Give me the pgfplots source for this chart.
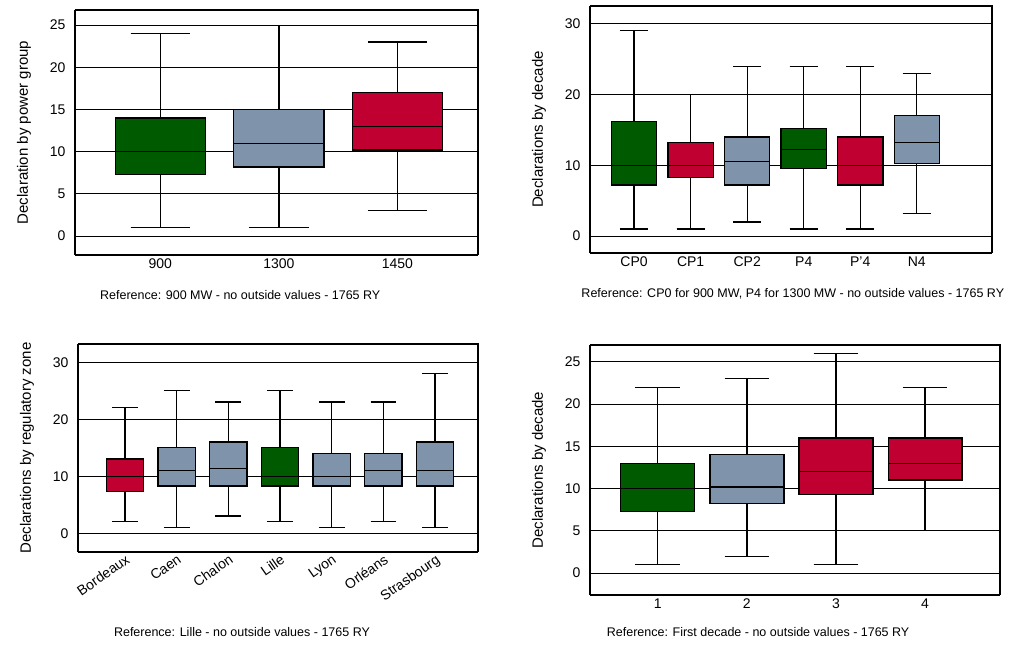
\documentclass[border=0pt]{standalone}
\usepackage{pgfplots}
\pgfplotsset{compat=1.18}
\usepgfplotslibrary{statistics}
\usepackage{fontspec}
\setmainfont{Liberation Sans}
\definecolor{cg}{HTML}{005A00}
\definecolor{cr}{HTML}{C00030}
\definecolor{cb}{HTML}{7F93AA}
\newcommand{\bx}[7]{\addplot[draw=black,line width=1.3pt,fill=#7,boxplot prepared={draw position=#1,lower whisker=#2,lower quartile=#3,median=#4,upper quartile=#5,upper whisker=#6}] coordinates {};}
\pgfplotsset{panel/.style={scale only axis, anchor=south west, axis line style={line width=1.3pt}, axis x line*=bottom, axis y line*=left,
 ymajorgrids, grid style={black,line width=1pt}, tick style={black,line width=1pt}, xtick style={draw=none},
 tick label style={font=\fontsize{14}{16}\selectfont}, label style={font=\fontsize{15}{17}\selectfont},
 yticklabel style={xshift=-6pt}, ylabel style={yshift=12pt},
 boxplot/draw direction=y, /pgf/number format/assume math mode=true, clip=false}}
\tikzset{capt/.style={font=\fontsize{12.5}{14}\selectfont}}
\begin{document}
\begin{tikzpicture}
\useasboundingbox (0pt,0pt) rectangle (1035pt,646pt);
% TL
\begin{axis}[panel, at={(75pt,391pt)}, width=403pt, height=245pt, xmin=0.28, xmax=3.68, ymin=-2.25, ymax=26.8,
 ytick={0,5,...,25}, xtick={1,2,3}, xticklabels={900,1300,1450}, boxplot/box extend=0.76, boxplot/whisker extend=0.5,
 ylabel={Declaration by power group}]
\draw[line width=1.3pt] (rel axis cs:0,1)--(rel axis cs:1,1)--(rel axis cs:1,0);
\bx{1}{1}{7.3}{10}{14}{24}{cg}
\bx{2}{1}{8.2}{11}{15}{25}{cb}
\bx{3}{3}{10.2}{13}{17}{23}{cr}
\node[anchor=north,capt] at (rel axis cs:0.41,0) [yshift=-32pt] {Reference: 900 MW - no outside values - 1765 RY};
\end{axis}
% TR
\begin{axis}[panel, at={(590pt,393pt)}, width=402pt, height=247pt, xmin=0.22, xmax=7.33, ymin=-2.4, ymax=32.5,
 ytick={0,10,20,30}, xtick={1,...,6}, xticklabels={CP0,CP1,CP2,P4,P'4,N4}, boxplot/box extend=0.8, boxplot/whisker extend=0.5,
 ylabel={Declarations by decade}]
\draw[line width=1.3pt] (rel axis cs:0,1)--(rel axis cs:1,1)--(rel axis cs:1,0);
\bx{1}{1}{7.2}{10}{16.2}{29}{cg}
\bx{2}{1}{8.3}{10}{13.2}{20}{cr}
\bx{3}{2}{7.2}{10.5}{14}{24}{cb}
\bx{4}{1}{9.5}{12.2}{15.2}{24}{cg}
\bx{5}{1}{7.2}{10}{14}{24}{cr}
\bx{6}{3.2}{10.2}{13.2}{17}{23}{cb}
\node[anchor=north west,capt] at (rel axis cs:-0.03,0) [yshift=-32pt] {Reference: CP0 for 900 MW, P4 for 1300 MW - no outside values - 1765 RY};
\end{axis}
% BL
\begin{axis}[panel, at={(78pt,94pt)}, width=400pt, height=208pt, xmin=0.09, xmax=7.83, ymin=-3.3, ymax=33.2,
 ytick={0,10,20,30}, xtick={1,...,7}, xticklabels={Bordeaux,Caen,Chalon,Lille,Lyon,Orléans,Strasbourg},
 xticklabel style={rotate=35,anchor=north east,inner sep=1pt}, boxplot/box extend=0.72, boxplot/whisker extend=0.5,
 ylabel={Declarations by regulatory zone}]
\draw[line width=1.3pt] (rel axis cs:0,1)--(rel axis cs:1,1)--(rel axis cs:1,0);
\bx{1}{2}{7.3}{10}{13}{22}{cr}
\bx{2}{1}{8.3}{11}{15}{25}{cb}
\bx{3}{3}{8.3}{11.3}{16}{23}{cb}
\bx{4}{2}{8.3}{10}{15}{25}{cg}
\bx{5}{1}{8.3}{10}{14}{23}{cb}
\bx{6}{2}{8.3}{11}{14}{23}{cb}
\bx{7}{1}{8.3}{11}{16}{28}{cb}
\node[anchor=north,capt] at (rel axis cs:0.41,0) [yshift=-72pt] {Reference: Lille - no outside values - 1765 RY};
\end{axis}
% BR
\begin{axis}[panel, at={(590pt,51pt)}, width=410pt, height=250pt, xmin=0.24, xmax=4.84, ymin=-2.6, ymax=27,
 ytick={0,5,...,25}, xtick={1,...,4}, boxplot/box extend=0.83, boxplot/whisker extend=0.5,
 ylabel={Declarations by decade}]
\draw[line width=1.3pt] (rel axis cs:0,1)--(rel axis cs:1,1)--(rel axis cs:1,0);
\bx{1}{1}{7.3}{10}{13}{22}{cg}
\bx{2}{2}{8.2}{10.2}{14}{23}{cb}
\bx{3}{1}{9.3}{12}{16}{26}{cr}
\bx{4}{5}{11}{13}{16}{22}{cr}
\node[anchor=north,capt] at (rel axis cs:0.41,0) [yshift=-29pt] {Reference: First decade - no outside values - 1765 RY};
\end{axis}
\end{tikzpicture}
\end{document}
